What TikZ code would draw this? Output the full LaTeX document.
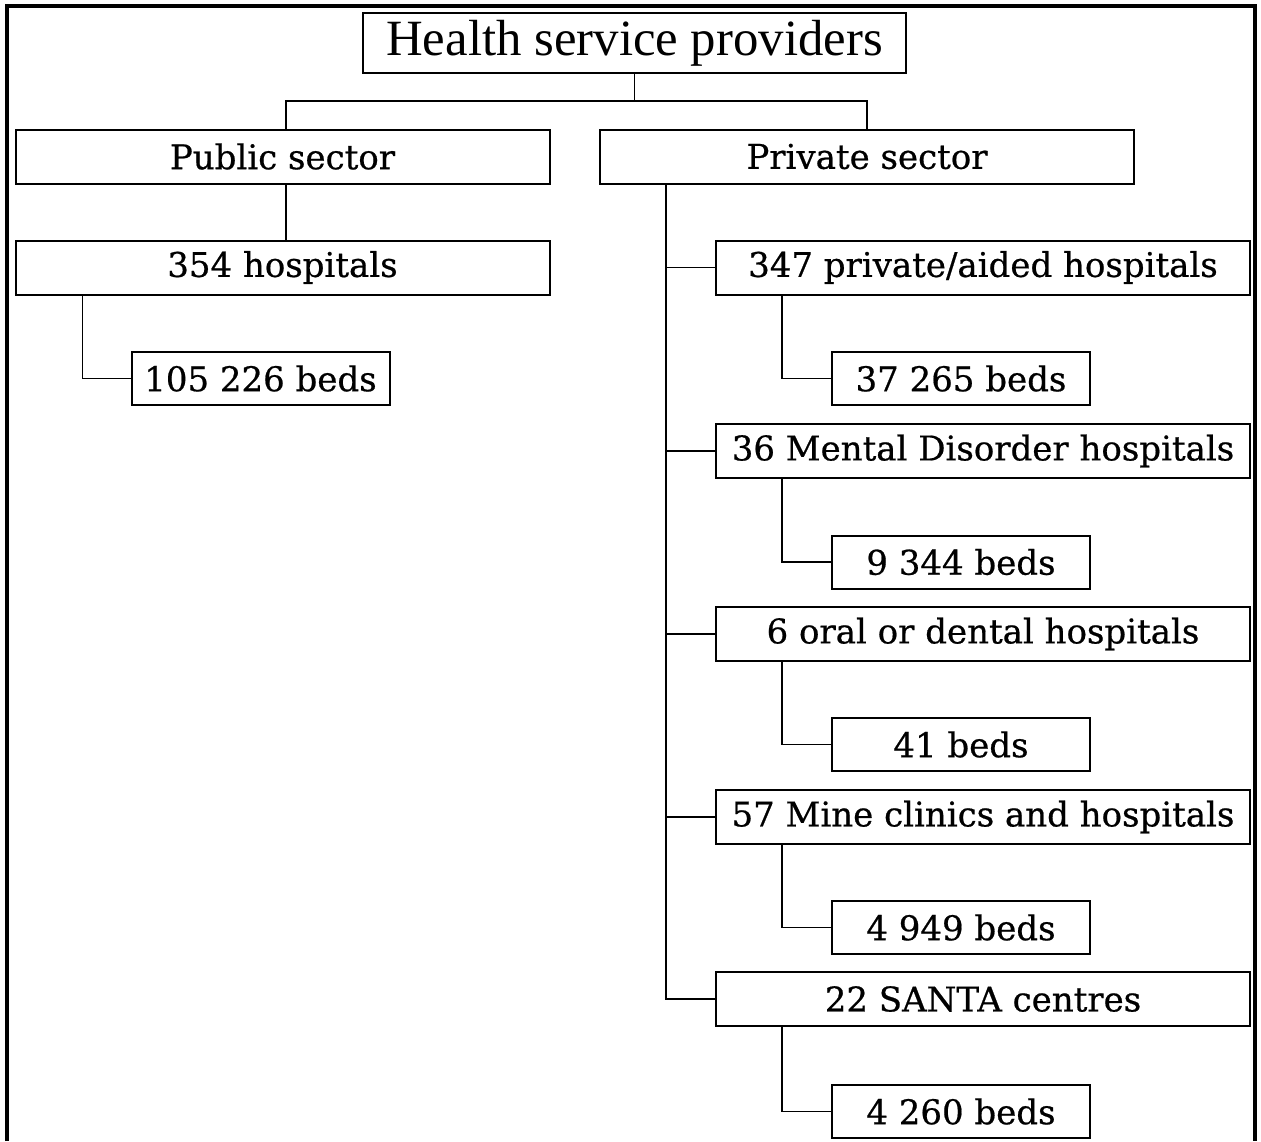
\documentclass[tikz,border=0pt]{standalone}
\usepackage{fontspec}
\setmainfont{DejaVu Serif}
\newfontfamily\boxfont[FakeBold=0.6]{DejaVu Serif}
\newfontfamily\headfont{Liberation Serif}
\usetikzlibrary{positioning,calc}

\begin{document}
\begin{tikzpicture}[x=0.5pt,y=-0.5pt,
    box/.style={draw,line width=1pt,inner sep=0pt,font=\boxfont\fontsize{17}{20}\selectfont},
    widebox/.style={box,minimum width=267pt,minimum height=27pt},
    bedbox/.style={box,minimum width=129pt,minimum height=26.5pt},
    link/.style={line width=0.6pt}]
    \useasboundingbox (0,0) rectangle (1261,1141);
    % outer frame (open at the bottom)
    \draw[line width=1.6pt] (7,1141) -- (7,6) -- (1255,6) -- (1255,1141);
    % top level
    \node[box,minimum width=271.5pt,minimum height=30pt,font=\headfont\fontsize{25.4}{29}\selectfont] (hsp) at (634.5,43) {Health service providers};
    \node[widebox] (pub) at (282.5,156.5) {Public sector};
    \node[widebox] (priv) at (867,156.5) {Private sector};
    \draw[link] (hsp.south) -- ++(0,27) coordinate (fork) -| ([xshift=1.75pt]pub.north);
    \draw[link] (fork) -| (priv.north);
    % public sector
    \node[widebox] (hosp) at (282.5,267.5) {354 hospitals};
    \node[bedbox] (pubbeds) at (260.5,378.5) {105 226 beds};
    \draw[link] ([xshift=1.75pt]pub.south) -- ([xshift=1.75pt]hosp.north);
    \draw[link] ($(hosp.south west)+(68,0)$) |- (pubbeds.west);
    % private sector
    \node[widebox] (aided) at (983,267.5) {347 private/aided hospitals};
    \node[bedbox] (aidedbeds) at (961,378.5) {37 265 beds};
    \node[widebox] (mental) at (983,451) {36 Mental Disorder hospitals};
    \node[bedbox] (mentalbeds) at (961,562) {9 344 beds};
    \node[widebox] (dental) at (983,634) {6 oral or dental hospitals};
    \node[bedbox] (dentalbeds) at (961,744.5) {41 beds};
    \node[widebox] (mine) at (983,817) {57 Mine clinics and hospitals};
    \node[bedbox] (minebeds) at (961,927.5) {4 949 beds};
    \node[widebox] (santa) at (983,999) {22 SANTA centres};
    \node[bedbox] (santabeds) at (961,1111.5) {4 260 beds};
    \foreach \n in {aided,mental,dental,mine,santa} {
      \draw[link] ($(priv.south west)+(67,0)$) |- (\n.west);
      \draw[link] ($(\n.south west)+(67,0)$) |- (\n beds.west);
    }
\end{tikzpicture}
\end{document}
